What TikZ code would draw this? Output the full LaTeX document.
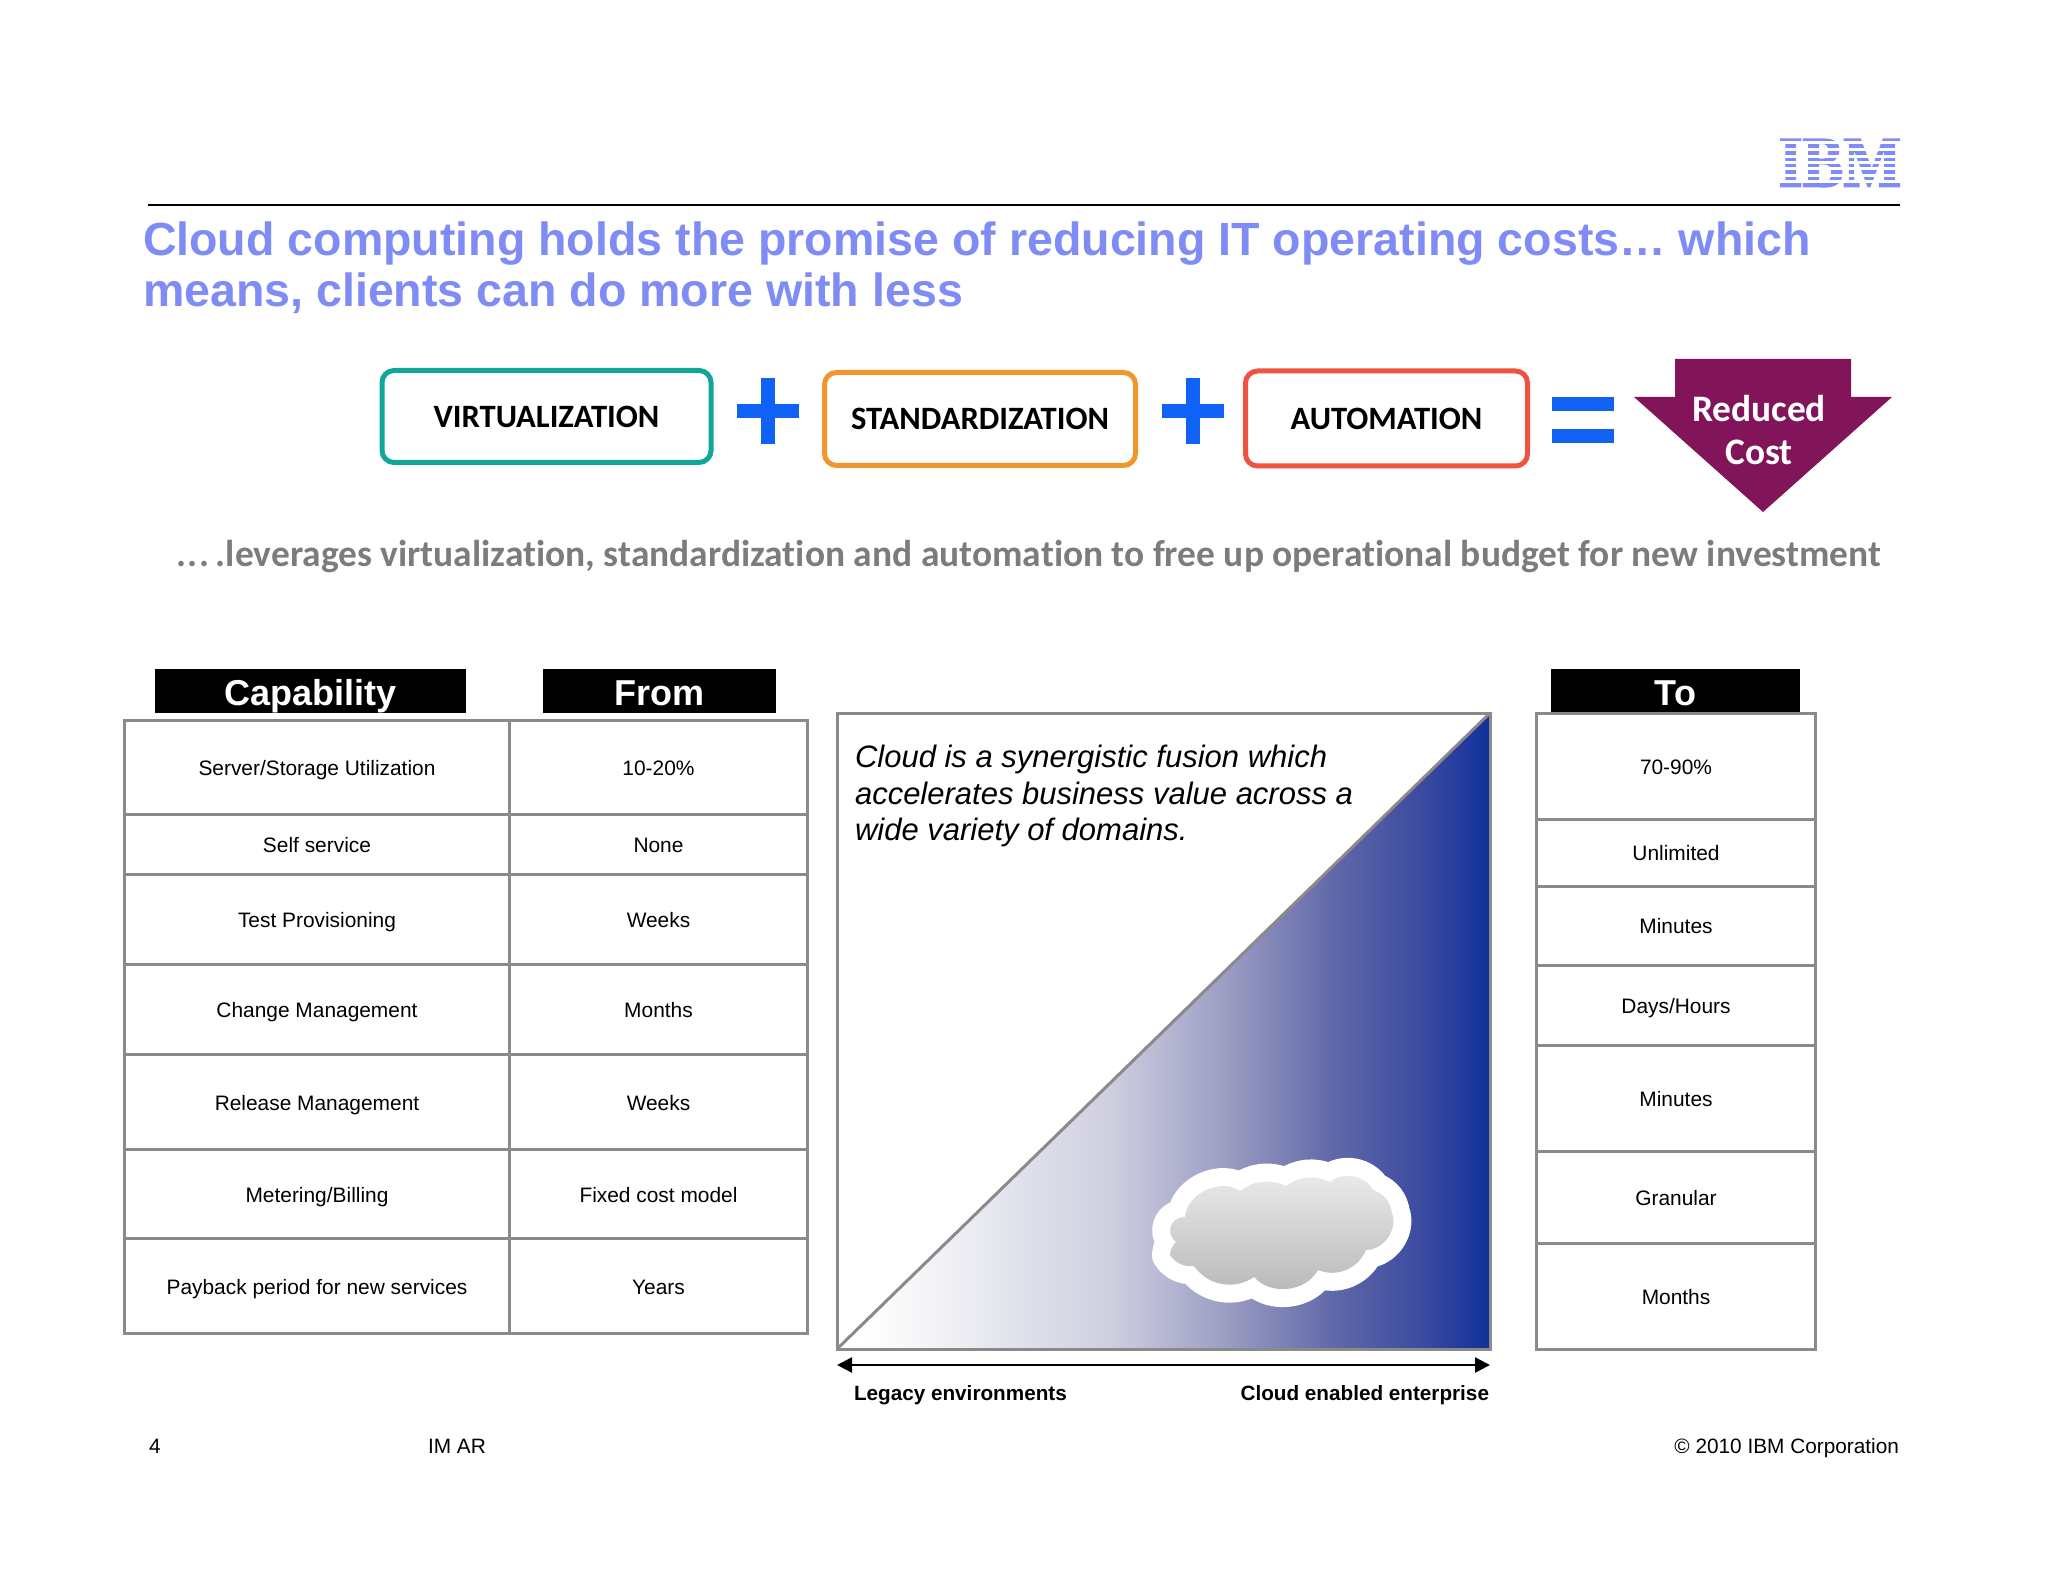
\documentclass[tikz,border=0pt]{standalone}
\usepackage{fontspec}
\setmainfont{Liberation Sans}
\newfontfamily\carlito[Ligatures=NoCommon]{Carlito}
\newfontfamily\logofont[BoldFeatures={FakeBold=2.5}]{Liberation Serif}
\usetikzlibrary{positioning,
                arrows.meta,
                shadings}
\definecolor{ibmblue}{HTML}{7F8CF5}
\definecolor{plusblue}{HTML}{0F62F5}
\definecolor{virtteal}{HTML}{12A69A}
\definecolor{stdorange}{HTML}{F0962D}
\definecolor{autored}{HTML}{EF5340}
\definecolor{costpurple}{HTML}{82145A}
\definecolor{tablegrey}{HTML}{8A8A8A}
\definecolor{subgrey}{HTML}{7C7C7E}
\definecolor{fusiona}{HTML}{F4F4F7}
\definecolor{fusionb}{HTML}{CECEE0}
\definecolor{fusionc}{HTML}{9A9CC2}
\definecolor{fusiond}{HTML}{6068A8}
\definecolor{fusione}{HTML}{3A4AA0}
\definecolor{fusionf}{HTML}{10309A}
\pgfdeclarehorizontalshading{fusion}{100bp}{color(0bp)=(white);
    color(27bp)=(white);
    color(32bp)=(fusiona);
    color(46bp)=(fusionb);
    color(55bp)=(fusionc);
    color(63bp)=(fusiond);
    color(70bp)=(fusione);
    color(75bp)=(fusionf);
    color(100bp)=(fusionf)}
\begin{document}
\begin{tikzpicture}
       [x=0.5pt,y=-0.5pt,
        headbar/.style={fill=black,text=white,font=\bfseries\fontsize{18}{20}\selectfont,
                        inner sep=0pt,outer sep=0pt,text height=18pt,text depth=4pt},
        cell/.style={draw=tablegrey,line width=1.5pt,fill=white,inner sep=0pt,outer sep=0pt,
                     anchor=center,text height=10.2pt,text depth=2.2pt,
                     font=\fontsize{10.45}{12}\selectfont},
        pillbox/.style={draw,fill=white,line width=2.5pt,rounded corners=6pt,inner sep=0pt,
                        font=\carlito\bfseries\fontsize{16.3}{18}\selectfont},
        plain/.style={inner sep=0pt,outer sep=0pt},
        footer/.style={plain,font=\fontsize{10.4}{12}\selectfont},
        sumbar/.style={fill=plusblue}]
       \useasboundingbox (0,0) rectangle (2048,1582);
       \node [plain,text=ibmblue,anchor=center,transform shape,xscale=.85,
              font=\logofont\bfseries\fontsize{36}{36}\selectfont] (logo) at (1840,163) {IBM};
       \foreach \gap in {143,150,157,163,169,175.5,182}
         \fill [white] (1770,\gap-1.5) rectangle (1910,\gap+1.5);

       \coordinate (ruleleft) at (148,205);
       \coordinate (ruleright) at (1900,205);
       \draw [line width=1pt] (ruleleft) -- (ruleright);

       \node [plain,anchor=north west,align=left,text=ibmblue,
              font=\bfseries\fontsize{23.27}{25.5}\selectfont] (title) at (143,222)
             {Cloud computing holds the promise of reducing IT operating costs… which\\
              means, clients can do more with less};

       \node [pillbox,draw=virtteal,minimum width=164.5pt,minimum height=46pt] (virt) at (546.5,416.5) {VIRTUALIZATION};
       \node [pillbox,draw=stdorange,minimum width=155.5pt,minimum height=46.5pt] (std) at (980,419) {STANDARDIZATION};
       \node [pillbox,draw=autored,minimum width=141pt,minimum height=47.5pt] (auto) at (1386.5,418.5) {AUTOMATION};

       \fill [sumbar] (737,404) rectangle (799,418);
       \fill [sumbar] (761,378) rectangle (775,444);
       \fill [sumbar] (1162,404) rectangle (1224,418);
       \fill [sumbar] (1186,378) rectangle (1200,444);
       \fill [sumbar] (1552,397) rectangle (1614,411);
       \fill [sumbar] (1552,429) rectangle (1614,443);

       \fill [costpurple] (1675,359) -- (1851,359) -- (1851,397) -- (1892,397)
                          -- (1763,512) -- (1634,397) -- (1675,397) -- cycle;
       \node [plain,text=white,font=\carlito\bfseries\fontsize{18.7}{22}\selectfont] (reduced) at (1759,409) {Reduced};
       \node [plain,text=white,font=\carlito\bfseries\fontsize{18.7}{22}\selectfont] (cost) at (1759,452) {Cost};

       \node [plain,anchor=base west,text=subgrey,font=\carlito\bfseries\fontsize{18.72}{20}\selectfont] (sub) at (176,567)
             {.\kern1pt.\kern1pt.\kern3pt.leverages virtualization, standardization and automation to free up operational budget for new investment};

       \node [headbar,minimum width=155.5pt] (capability) at (310.5,691) {Capability};
       \node [headbar,minimum width=116.5pt] (from) at (659.5,691) {From};
       \node [headbar,minimum width=124.5pt] (to) at (1675.5,691) {To};

       \matrix (fromtable) [anchor=north west,inner sep=0pt,outer sep=0pt,row sep=-1.5pt,column sep=-1.5pt] at (123,719) {
        \node [cell,minimum width=192.5pt,minimum height=47pt] {Server/Storage Utilization}; &
        \node [cell,minimum width=149pt,minimum height=47pt] {10-20\%}; \\
        \node [cell,minimum width=192.5pt,minimum height=30pt] {Self service}; &
        \node [cell,minimum width=149pt,minimum height=30pt] {None}; \\
        \node [cell,minimum width=192.5pt,minimum height=45pt] {Test Provisioning}; &
        \node [cell,minimum width=149pt,minimum height=45pt] {Weeks}; \\
        \node [cell,minimum width=192.5pt,minimum height=45pt] {Change Management}; &
        \node [cell,minimum width=149pt,minimum height=45pt] {Months}; \\
        \node [cell,minimum width=192.5pt,minimum height=47.5pt] {Release Management}; &
        \node [cell,minimum width=149pt,minimum height=47.5pt] {Weeks}; \\
        \node [cell,minimum width=192.5pt,minimum height=44.5pt] {Metering/Billing}; &
        \node [cell,minimum width=149pt,minimum height=44.5pt] {Fixed cost model}; \\
        \node [cell,minimum width=192.5pt,minimum height=47.5pt] {Payback period for new services}; &
        \node [cell,minimum width=149pt,minimum height=47.5pt] {Years}; \\
        };

       \matrix (totable) [anchor=north west,inner sep=0pt,outer sep=0pt,row sep=-1.5pt] at (1535,712) {
        \node [cell,minimum width=139.5pt,minimum height=53pt] {70-90\%}; \\
        \node [cell,minimum width=139.5pt,minimum height=33.25pt] {Unlimited}; \\
        \node [cell,minimum width=139.5pt,minimum height=39.75pt] {Minutes}; \\
        \node [cell,minimum width=139.5pt,minimum height=40pt] {Days/Hours}; \\
        \node [cell,minimum width=139.5pt,minimum height=52.75pt] {Minutes}; \\
        \node [cell,minimum width=139.5pt,minimum height=46.25pt] {Granular}; \\
        \node [cell,minimum width=139.5pt,minimum height=53pt] {Months}; \\
        };

       \coordinate (fusionsw) at (837,1349);
       \coordinate (fusionse) at (1490,1349);
       \coordinate (fusionne) at (1490,713);
       \coordinate (fusionnw) at (837,713);
       \shade [shading=fusion] (fusionsw) -- (fusionse) -- (fusionne) -- cycle;
       \draw [tablegrey,line width=1.5pt] (fusionsw) -- (fusionse) -- (fusionne) -- (fusionnw) -- cycle;
       \draw [tablegrey,line width=1.5pt] (fusionsw) -- (fusionne);

       \node [plain,anchor=north west,align=left,font=\itshape\fontsize{15.5}{18.3}\selectfont] (fusiontext) at (855,745)
             {Cloud is a synergistic fusion which\\
              accelerates business value across a\\
              wide variety of domains.};

       \path [preaction={draw=white,line width=18pt,line join=round},
              top color=black!8,bottom color=black!28]
             (1185,1217) to[bend left=60] (1240,1191) to[bend left=30] (1286,1186)
             to[bend left=30] (1330,1182) to[bend left=50] (1373,1190)
             to[bend left=30] (1392,1213) to[bend left=55] (1366,1250)
             to[bend left=45] (1318,1270) to[bend left=55] (1254,1277)
             to[bend left=45] (1194,1266) to[bend left=30] (1170,1255)
             to[bend left=20] (1176,1242) to[bend left=70,looseness=1.4] cycle;

       \coordinate (scaleleft) at (837,1365);
       \coordinate (scaleright) at (1490,1365);
       \draw [{Triangle[length=7.5pt,width=7.5pt]}-{Triangle[length=7.5pt,width=7.5pt]},line width=1.2pt] (scaleleft) -- (scaleright);
       \node [plain,anchor=west,font=\bfseries\fontsize{10.35}{12}\selectfont] (legacy) at (854,1395) {Legacy environments};
       \node [plain,anchor=east,font=\bfseries\fontsize{10.35}{12}\selectfont] (enabled) at (1489,1395) {Cloud enabled enterprise};

       \node [footer,anchor=base west] (pageno) at (149,1453) {4};
       \node [footer,anchor=base west] (imar) at (428,1453) {IM AR};
       \node [footer,anchor=base east] (copyright) at (1899,1453) {© 2010 IBM Corporation};
    \end{tikzpicture}
\end{document}
